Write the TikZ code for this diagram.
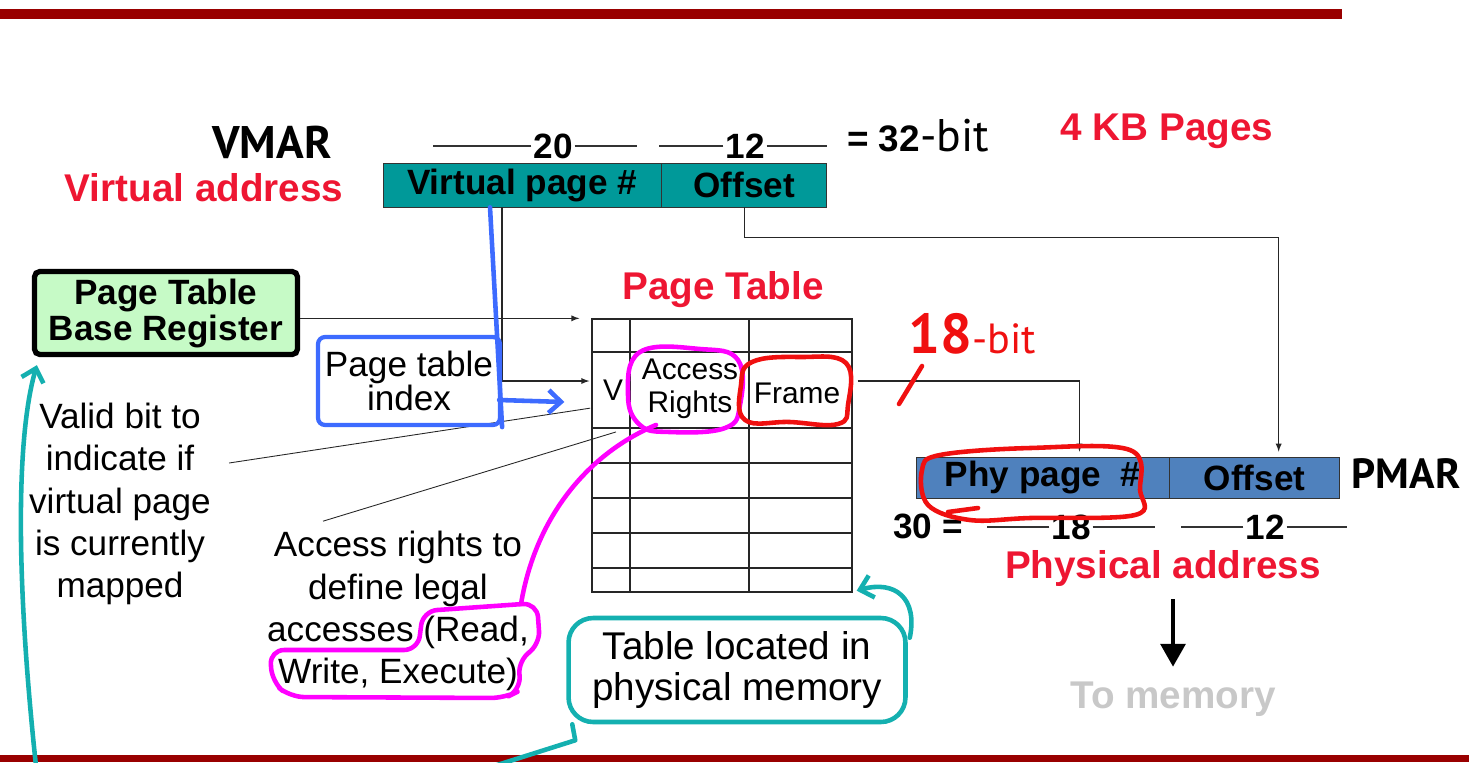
\documentclass[tikz,border=0pt]{standalone}
\usepackage{fontspec}
\setmainfont{Liberation Sans}
\newfontfamily\handfont{PT Sans}
\usepackage{tikz}
\usetikzlibrary{arrows, arrows.meta, positioning, calc}

\definecolor{barred}{RGB}{153,0,0}
\definecolor{lblred}{RGB}{238,22,50}
\definecolor{vafill}{RGB}{0,153,153}
\definecolor{pafill}{RGB}{79,129,189}
\definecolor{regfill}{RGB}{198,250,198}
\definecolor{penblue}{RGB}{61,107,255}
\definecolor{penmag}{RGB}{255,0,255}
\definecolor{penred}{RGB}{240,16,16}
\definecolor{penteal}{RGB}{20,176,176}
\definecolor{memgray}{RGB}{200,200,200}

\newcommand{\fsz}[2]{\fontsize{#1}{#2}\selectfont}

\tikzset{
  field/.style={draw=black!80, inner sep=0pt, font=\bfseries\fsz{20}{24}},
  bigred/.style={text=lblred, font=\bfseries\fsz{22}{26}},
  bits/.style={font=\bfseries\fsz{20}{24}, inner sep=1pt},
  dimline/.style={draw=black!80, line width=0.6pt},
  wire/.style={draw=black!85, line width=0.6pt},
  note/.style={align=center, font=\fsz{20}{24}},
  cell/.style={font=\fsz{17}{19}, align=center, inner sep=2pt},
  scrawl/.style={font=\handfont\bfseries\fsz{26}{28}, inner sep=0pt},
  inkline/.style={line width=2.6pt, line cap=round, line join=round},
  inktip/.style={-{Straight Barb[length=7pt, width=13pt]}},
}

\begin{document}
\begin{tikzpicture}[x=0.02cm, y=-0.02cm, >=latex]
  \useasboundingbox (0,0) rectangle (1469,762);
  % slide bars
  \fill[barred] (0,9) rectangle (1342,19);
  \fill[barred] (0,755) rectangle (1469,762);

  % virtual address register
  \node (vpn) [field, fill=vafill, minimum width=5.56cm, minimum height=0.88cm] at (522,185) {Virtual page \#};
  \node (voff) [field, fill=vafill, minimum width=3.3cm, minimum height=0.88cm, right=0pt of vpn] {Offset};
  \node (valbl) [bigred] at (204,188) {Virtual address};
  \node (vmar) [scrawl] at (272,142) {VMAR};
  \node (nv20) [bits] at (553,146) {20};
  \node (nv12) [bits] at (745,146) {12};
  \draw[dimline] (nv20.west) -- ++(-98,0);
  \draw[dimline] (nv20.east) -- ++(62,0);
  \draw[dimline] (nv12.west) -- ++(-64,0);
  \draw[dimline] (nv12.east) -- ++(60,0);
  \node (vbits) [inner sep=0] at (918,136) {{\bfseries\fsz{21}{24}= 32}{\handfont\fsz{26}{28}-bit}};
  \node (pgsize) [bigred] at (1167,131) {4 KB Pages};

  % base register
  \node (ptbr) [draw, line width=3pt, fill=regfill, rounded corners=3pt, minimum width=5.26cm, minimum height=1.66cm, align=center, font=\bfseries\fsz{20}{20.5}] at (166,313) {Page Table\\Base Register};

  % page table
  \node (ptitle) [bigred] at (723,290) {Page Table};
  \node (ptab) [draw=black!85, line width=0.8pt, minimum width=5.2cm, minimum height=5.46cm, inner sep=0] at (722,455.5) {};
  \foreach \x in {630,749}
    \draw[wire] (\x,319) -- (\x,592);
  \foreach \y in {352,428,463,498,533,568}
    \draw[wire] (592,\y) -- (852,\y);
  \node (vbit) [cell] at (613,390) {V};
  \node (rights) [cell] at (690,389) {Access\\Rights};
  \node (frame) [cell] at (797,393) {Frame};

  % physical address register
  \node (ppn) [field, fill=pafill, minimum width=5.06cm, minimum height=0.82cm] at (1042.5,477.5) {Phy page\ \ \#};
  \node (poff) [field, fill=pafill, minimum width=3.4cm, minimum height=0.82cm, right=0pt of ppn] {Offset};
  \node (pmar) [scrawl, font=\handfont\bfseries\fsz{24}{26}] at (1406,474) {PMAR};
  \node (p30) [bits] at (928,526) {30 =};
  \node (np18) [bits] at (1071,527) {18};
  \node (np12) [bits] at (1265,527) {12};
  \draw[dimline] (np18.west) -- ++(-62,0);
  \draw[dimline] (np18.east) -- ++(62,0);
  \draw[dimline] (np12.west) -- ++(-62,0);
  \draw[dimline] (np12.east) -- ++(60,0);
  \node (palbl) [bigred] at (1163,568) {Physical address};
  \node (tomem) [font=\bfseries\fsz{22}{26}, text=memgray] at (1173,699) {To memory};

  % translation wires
  \draw[wire, ->] (ptbr.east |- ptab.north) -- ($(ptab.north west)+(-12,0)$);
  \draw[wire, ->] ($(vpn.south)+(-20,0)$) |- ($(ptab.west |- vbit)+(-2,-9)$);
  \draw[wire, ->] (voff.south) -- ++(0,30) -| ($(poff.north)+(24,-5)$);
  \draw[wire, ->] ($(ptab.east |- frame)+(5,-12)$) -| ($(ppn.north)+(37,-5)$);
  \draw[line width=2.4pt, -{Triangle[length=13pt, width=14pt]}, shorten <=4pt, shorten >=5pt] (palbl.south -| tomem.north) -- (tomem.north);

  % side notes
  \node (validnote) [note] at (120,504) {Valid bit to\\indicate if\\virtual page\\is currently\\mapped};
  \node (accnote) [note] at (398,611) {Access rights to\\define legal\\accesses (Read,\\Write, Execute)};
  \draw[wire, line width=0.5pt] ($(validnote.east)+(12,-41)$) -- ($(vbit.south west)+(-9,4)$);
  \draw[wire, line width=0.5pt] ($(accnote.north)+(-75,-4)$) -- ($(rights.south west)+(-22,9)$);

  % pen marks: page table index
  \node (pidx) [note, font=\fsz{20}{19.5}, draw=penblue, line width=2.4pt, rounded corners=4pt, minimum width=3.64cm, minimum height=1.76cm, inner sep=2pt] at (409,381) {Page table\\index};
  \draw[inkline, draw=penblue] ($(vpn.south)+(-32,0)$) -- (pidx.south east);
  \draw[inkline, inktip, draw=penblue] ($(pidx.east)+(-3,19)$) -- ($(ptab.west |- vbit)+(-27,12)$);

  % pen marks: access rights
  \coordinate (readloop) at (521,604);
  \draw[inkline, draw=penmag] plot[smooth cycle, tension=0.7] coordinates {(640,352) (700,349) (738,360) (740,405) (725,428) (670,432) (640,425) (628,395)};
  \draw[inkline, draw=penmag, rounded corners=8pt] (423,611) -- (537,603) -- (540,645) -- (518,660) -- (521,690) -- (505,698) -- (290,697) -- (272,682) -- (270,650) -- (418,650) -- cycle;
  \draw[inkline, draw=penmag] ($(rights.south)+(-34,2)$) .. controls (585,455) and (535,520) .. (readloop);

  % pen marks: frame width
  \draw[inkline, draw=penred] plot[smooth cycle, tension=0.7] coordinates {(752,362) (800,357) (846,363) (848,405) (838,424) (790,422) (745,420) (741,385)};
  \draw[inkline, draw=penred] plot[smooth cycle, tension=0.6] coordinates {(940,455) (1030,448) (1130,450) (1140,490) (1135,515) (1030,518) (970,520) (928,505) (922,470)};
  \draw[inkline, draw=penred] (948,512) -- (978,508);
  \draw[inkline, draw=penred] (899,404) -- (922,366);
  \node (bit18) [text=penred, inner sep=0] at (972,334) {{\handfont\bfseries\fsz{32}{32}18}{\handfont\fsz{24}{26}-bit}};

  % pen marks: table location
  \node (tnote) [note, font=\fsz{22}{23}, draw=penteal, line width=2.6pt, rounded corners=14pt, minimum width=6.74cm, minimum height=2.08cm] at (737,670) {Table located in\\physical memory};
  \coordinate (tnotetail) at (494,766);
  \coordinate (regtail) at (36,766);
  \draw[inkline, inktip, draw=penteal] ($(tnote.north east)+(2,22)$) .. controls (918,598) and (895,580) .. ($(ptab.south east)+(4,-2)$);
  \draw[inkline, draw=penteal] ($(tnote.south west)+(6,0)$) -- ++(3,16) -- (tnotetail);
  \draw[inkline, inktip, draw=penteal] (regtail) .. controls (14,560) and (18,430) .. ($(ptbr.south west)+(5,8)$);
\end{tikzpicture}
\end{document}
